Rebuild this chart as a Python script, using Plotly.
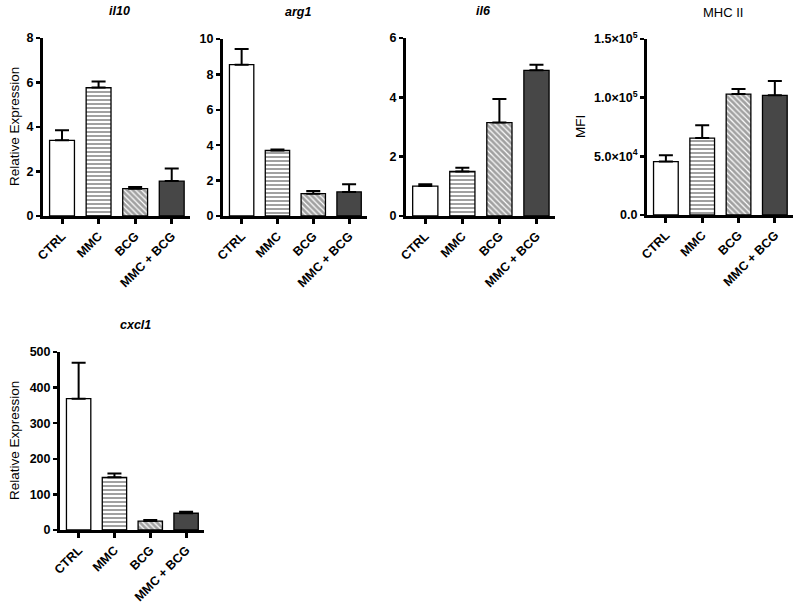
import plotly.graph_objects as go

categories = ["CTRL", "MMC", "BCG", "MMC + BCG"]

il10_mean = [3.40, 5.77, 1.23, 1.57]
il10_err = [0.45, 0.28, 0.07, 0.56]

arg1_mean = [8.55, 3.70, 1.26, 1.36]
arg1_err = [0.88, 0.05, 0.15, 0.43]

il6_mean = [1.01, 1.50, 3.15, 4.91]
il6_err = [0.06, 0.13, 0.79, 0.19]

mhc_mean = [45500, 65600, 103100, 102000]
mhc_err = [5500, 10800, 4300, 12200]

cxcl1_mean = [369, 148, 25, 47]
cxcl1_err = [101, 11, 3, 4]

mhc_tickvals = [0, 50000, 100000, 150000]
mhc_ticktext = ["0.0", "5.0×10<sup>4</sup>", "1.0×10<sup>5</sup>", "1.5×10<sup>5</sup>"]

W, H = 800, 606
FONT = "Liberation Sans, Arial, sans-serif"


def fx(px):
    return px / W


def fy(py):
    return 1 - py / H


fills = ["white", "white", "white", "#474747"]
pattern_shapes = ["", "-", "\\", ""]
pattern_bg = ["white", "white", "#c8c8c8", "#474747"]

panels = [
    dict(means=il10_mean, errs=il10_err, xpx=(43, 190), ypx=(38, 216), yr=(0, 8), dtick=2,
         title="il10", italic=True, ytitle="Relative Expression", ytx=14),
    dict(means=arg1_mean, errs=arg1_err, xpx=(223, 367), ypx=(39, 216), yr=(0, 10), dtick=2,
         title="arg1", italic=True, ytitle=None, ytx=None),
    dict(means=il6_mean, errs=il6_err, xpx=(406, 555), ypx=(38, 216), yr=(0, 6), dtick=2,
         title="il6", italic=True, ytitle=None, ytx=None),
    dict(means=mhc_mean, errs=mhc_err, xpx=(647, 793), ypx=(39, 215), yr=(0, 150000), dtick=None,
         title="MHC II", italic=False, ytitle="MFI", ytx=580),
    dict(means=cxcl1_mean, errs=cxcl1_err, xpx=(60, 204), ypx=(352, 530), yr=(0, 500), dtick=100,
         title="cxcl1", italic=True, ytitle="Relative Expression", ytx=14),
]

fig = go.Figure()
annotations = []

for i, p in enumerate(panels, start=1):
    xa = "x" if i == 1 else f"x{i}"
    ya = "y" if i == 1 else f"y{i}"
    fig.add_trace(go.Bar(
        x=categories, y=p["means"], xaxis=xa, yaxis=ya,
        marker=dict(color=fills, line=dict(color="black", width=1.3),
                    pattern=dict(
                        shape=pattern_shapes,
                        fgcolor="black", bgcolor=pattern_bg, size=[4, 4, 4, 4],
                        solidity=[0.5, 0.5, 0.7, 0.5])),
        error_y=dict(type="data", symmetric=False, array=p["errs"],
                     arrayminus=[0] * len(p["errs"]), thickness=2, width=7, color="black"),
        showlegend=False, hoverinfo="skip",
    ))
    x0, x1 = p["xpx"]
    y0, y1 = p["ypx"]
    xkey = "xaxis" if i == 1 else f"xaxis{i}"
    ykey = "yaxis" if i == 1 else f"yaxis{i}"
    fig.layout[xkey] = dict(
        domain=[fx(x0), fx(x1)], anchor=ya, range=[-0.52, 3.5], showline=True, linewidth=3,
        linecolor="black", ticks="outside", ticklen=5, tickwidth=3, tickcolor="black",
        tickangle=-45, tickfont=dict(family=FONT, size=12.5, color="black", weight="bold"),
        showgrid=False, zeroline=False, fixedrange=True, automargin=False,
    )
    ydict = dict(
        domain=[fy(y1), fy(y0)], anchor=xa, range=list(p["yr"]), showline=True, linewidth=3,
        linecolor="black", ticks="outside", ticklen=4, tickwidth=2.5, tickcolor="black",
        tickfont=dict(family=FONT, size=12.5, color="black", weight="bold"),
        showgrid=False, zeroline=False, fixedrange=True, automargin=False,
    )
    if p["dtick"] is not None:
        ydict.update(tickmode="linear", tick0=0, dtick=p["dtick"])
    else:
        ydict.update(tickmode="array", tickvals=mhc_tickvals, ticktext=mhc_ticktext)
    fig.layout[ykey] = ydict

    if p["italic"]:
        title_txt = f"<b><i>{p['title']}</i></b>"
    else:
        title_txt = p["title"]
    annotations.append(dict(
        text=title_txt, xref="paper", yref="paper",
        x=fx((x0 + x1) / 2 + 3), y=fy(y0 - 27),
        xanchor="center", yanchor="middle", showarrow=False,
        font=dict(family=FONT, size=12.5 if p["italic"] else 13, color="black"),
    ))
    if p["ytitle"]:
        annotations.append(dict(
            text=p["ytitle"], xref="paper", yref="paper",
            x=fx(p["ytx"]), y=fy((y0 + y1) / 2), textangle=-90,
            xanchor="center", yanchor="middle", showarrow=False,
            font=dict(family=FONT, size=13.5, color="black"),
        ))

fig.update_layout(
    width=W, height=H, margin=dict(l=0, r=0, t=0, b=0),
    paper_bgcolor="white", plot_bgcolor="white",
    bargap=0.32, annotations=annotations,
    font=dict(family=FONT, color="black"),
)

fig.write_html(
    "out.html",
    config={"displayModeBar": False, "staticPlot": True},
    post_script="document.body.style.margin='0';document.body.style.overflow='hidden';",
)
